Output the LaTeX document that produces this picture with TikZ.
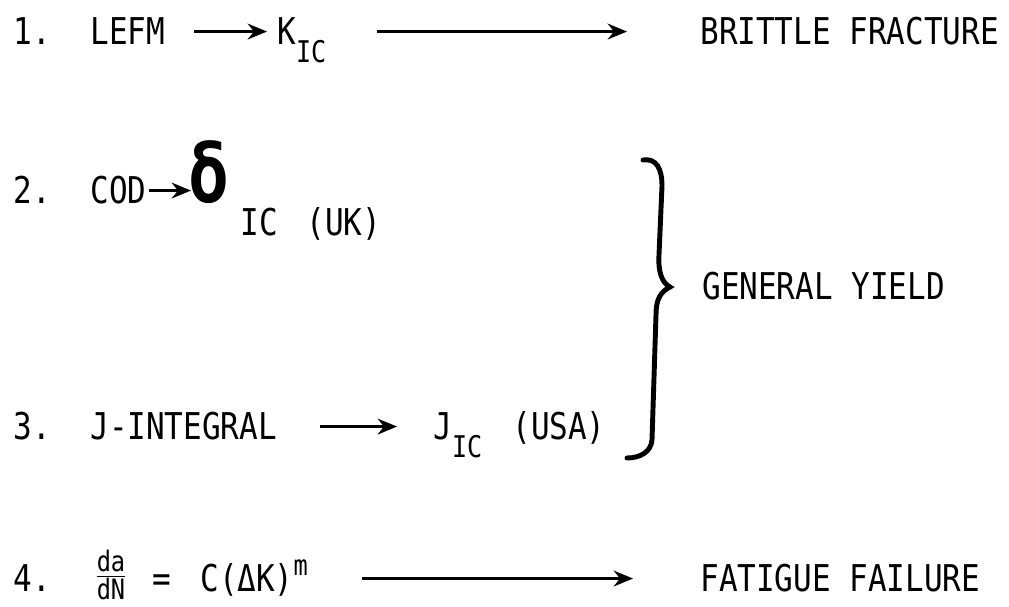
\documentclass[tikz,border=0pt]{standalone}
\usepackage{amsmath}
\usepackage{fontspec}
\setmainfont{DejaVu Sans Mono}[FakeStretch=0.84]
\usetikzlibrary{arrows.meta}
\tikzset{
  lbl/.style={anchor=base west,inner sep=0pt},
  arr/.style={-{Stealth[length=11pt,width=9pt]},line width=1.5pt},
}
\newcommand{\lowtxt}[1]{\raisebox{-0.36cm}{\fontsize{17}{20}\selectfont #1}}

\begin{document}
\begin{tikzpicture}[x=0.02cm,y=-0.02cm,font=\fontsize{21}{25}\selectfont]
\useasboundingbox (0,0) rectangle (1009,607);
% row 1
\node[lbl] (n1) at (13,45) {1.};
\node[lbl] (lefm) at (90,45) {LEFM};
\node[lbl] (kic) at (277,45) {K\lowtxt{IC}};
\node[lbl] (brittle) at (700,45) {BRITTLE FRACTURE};
\draw[arr,shorten <=0.58cm,shorten >=0.2cm] (lefm.east) -- (lefm.east -| kic.west);
\draw[arr,shorten <=1cm,shorten >=1.46cm] (lefm.east -| kic.east) -- (lefm.east -| brittle.west);
% row 2
\node[lbl] (n2) at (13,204) {2.};
\node[lbl] (cod) at (90,204) {COD};
\node[inner sep=0pt,anchor=base west] (delta) at (188,203)
      {\fontsize{46}{46}\selectfont\textbf{δ}};
\node[lbl] (dic) at (240,236) {IC};
\node[lbl] (uk) at (306,236) {(UK)};
\draw[arr,shorten <=0.04cm,shorten >=-0.06cm] (cod.east) -- (cod.east -| delta.west);
% row 3
\node[lbl] (n3) at (13,440) {3.};
\node[lbl] (jint) at (90,440) {J-INTEGRAL};
\node[lbl] (jic) at (433,440) {J\lowtxt{IC}};
\node[lbl] (usa) at (512,440) {(USA)};
\draw[arr,shorten <=0.86cm,shorten >=0.72cm] (jint.east) -- (jint.east -| jic.west);
% bracket and its label
\draw[line width=2.8pt,line cap=round] (643,160) .. controls (656,158) and (662,168) .. (662,186)
      -- (659,255) .. controls (658,272) and (662,283) .. (670,287)
      .. controls (660,292) and (656,300) .. (656,315)
      -- (652,440) .. controls (651,452) and (640,458) .. (627,458);
\node[lbl] (yield) at (702,300) {GENERAL YIELD};
% row 4
\node[lbl] (n4) at (13,592) {4.};
\node[inner sep=0pt] (dadn) at (111,575)
      {$\frac{\text{\fontsize{16}{16}\selectfont da}}{\text{\fontsize{16}{16}\selectfont dN}}$};
\node[lbl] (eq) at (152,592) {=};
\node[lbl] (law) at (200,592) {C(ΔK)\raisebox{0.32cm}{\fontsize{16}{16}\selectfont m}};
\node[lbl] (fatigue) at (700,592) {FATIGUE FAILURE};
\draw[arr,shorten <=1.08cm,shorten >=1.34cm] (n4.east -| law.east) -- (n4.east -| fatigue.west);
\end{tikzpicture}
\end{document}
